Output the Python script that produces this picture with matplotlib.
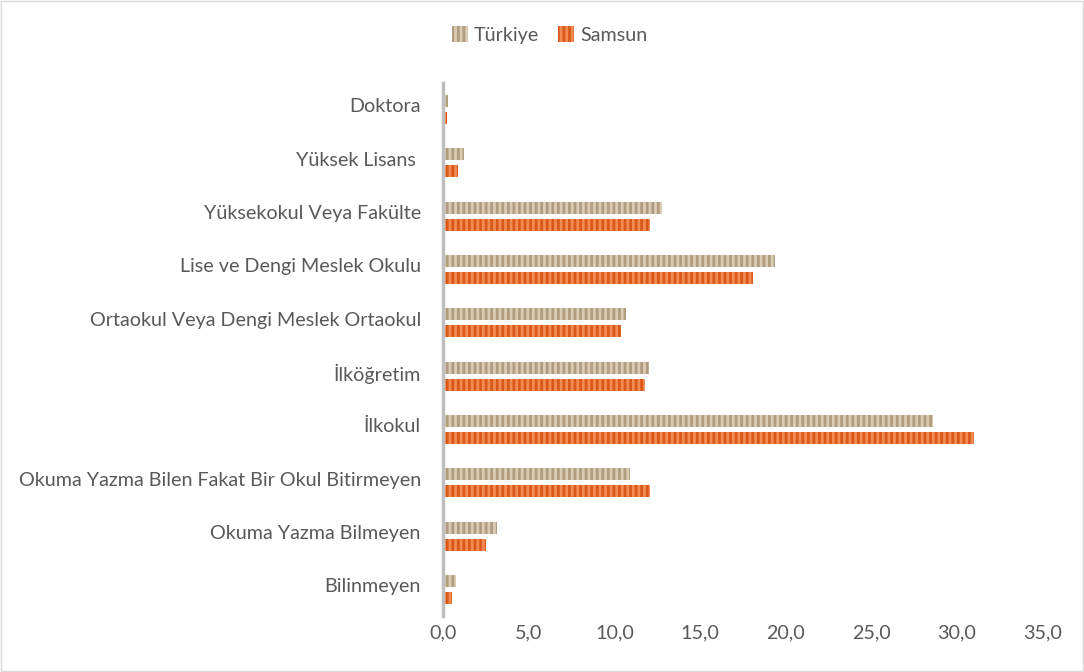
import matplotlib
matplotlib.use("Agg")
import matplotlib.pyplot as plt
import matplotlib.transforms as mtransforms
import numpy as np

categories = ["Bilinmeyen", "Okuma Yazma Bilmeyen", "Okuma Yazma Bilen Fakat Bir Okul Bitirmeyen",
              "İlkokul", "İlköğretim", "Ortaokul Veya Dengi Meslek Ortaokul",
              "Lise ve Dengi Meslek Okulu", "Yüksekokul Veya Fakülte", "Yüksek Lisans ", "Doktora"]
turkiye = [0.75, 3.15, 10.9, 28.6, 12.0, 10.7, 19.4, 12.8, 1.2, 0.3]
samsun = [0.5, 2.5, 12.1, 31.0, 11.8, 10.4, 18.1, 12.1, 0.85, 0.25]
xticks = [0, 5, 10, 15, 20, 25, 30, 35]
xticklabels = ["0,0", "5,0", "10,0", "15,0", "20,0", "25,0", "30,0", "35,0"]

plt.rcParams['font.family'] = ['Lato', 'DejaVu Sans']
plt.rcParams['hatch.linewidth'] = 2.0

fig = plt.figure(figsize=(10.84, 6.72), dpi=100)
ax = fig.add_axes([0.4087, 0.0833, 0.553, 0.7932])

y = np.arange(len(categories))
h = 0.225
off = 0.16
ax.barh(y + off, turkiye, height=h, color="#DACBB3", edgecolor="#B09C7E", hatch="|||",
        linewidth=0, label="Türkiye")
ax.barh(y - off, samsun, height=h, color="#F28C52", edgecolor="#D9581A", hatch="|||",
        linewidth=0, label="Samsun")

ax.set_xlim(0, 35)
ax.set_ylim(-0.5, len(categories) - 0.5)
ax.set_yticks(y)
ax.set_yticklabels(categories, fontsize=14.2, color="#595959")
ax.set_xticks(xticks)
ax.set_xticklabels(xticklabels, fontsize=14.2, color="#595959")
ax.tick_params(axis='both', length=0, pad=6)
ax.tick_params(axis='y', pad=16)
shift = mtransforms.ScaledTranslation(0, 3 / 72, fig.dpi_scale_trans)
for lbl in ax.get_yticklabels():
    lbl.set_transform(lbl.get_transform() + shift)
for s in ["top", "right", "bottom"]:
    ax.spines[s].set_visible(False)
ax.spines["left"].set_color("#BFBFBF")
ax.spines["left"].set_linewidth(2.5)

leg = fig.legend(loc="center", bbox_to_anchor=(0.507, 0.948), ncol=2, frameon=False,
                 fontsize=14.2, handlelength=0.8, handleheight=0.9, columnspacing=1.0,
                 handletextpad=0.3)
for t in leg.get_texts():
    t.set_color("#595959")

fig.patches.append(plt.Rectangle((0.001, 0.001), 0.998, 0.997, transform=fig.transFigure,
                                 fill=False, edgecolor="#D9D9D9", linewidth=1))
fig.savefig("out.png", dpi=100)
